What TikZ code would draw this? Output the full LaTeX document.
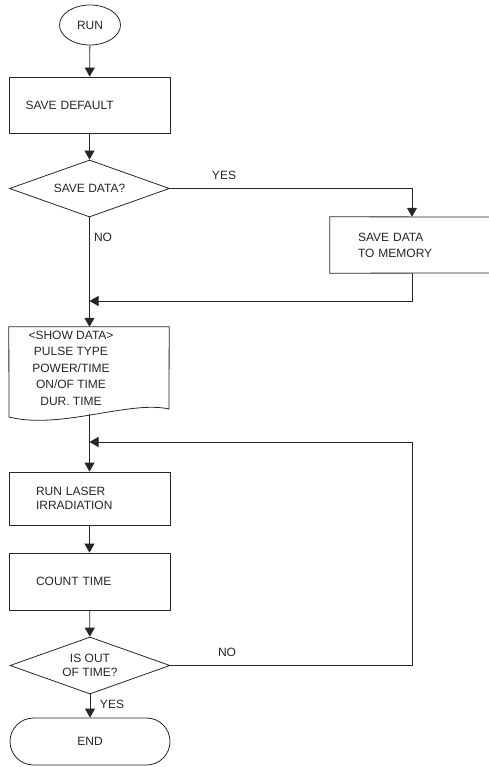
\documentclass[tikz,border=0pt]{standalone}
\usepackage{fontspec}
\setmainfont{Liberation Sans}
\usetikzlibrary{shapes.geometric,arrows.meta,calc}
\begin{document}
\begin{tikzpicture}[x=1pt,y=-1pt,
  every node/.style={font=\fontsize{12}{15}\selectfont, text=black!85},
  ln/.style={draw=black!85, line width=0.8pt},
  arr/.style={ln, -{Triangle[width=10pt,length=9pt]}},
  procbox/.style={ln, rectangle, minimum width=161pt, minimum height=#1, inner sep=0pt},
  decide/.style={ln, diamond, aspect=2.8, minimum width=160pt, minimum height=57pt, inner sep=0pt},
  lbl/.style={inner sep=0pt}
]
\useasboundingbox (0,0) rectangle (489,767);

% nodes
\node[ln, ellipse, minimum width=61pt, minimum height=40pt, inner sep=0pt] (run) at (90,25) {RUN};
\node[procbox=56pt, text width=128pt, align=left] (savedef) at (89.5,105) {SAVE DEFAULT};
\node[decide] (savedata) at (89.5,188.5) {SAVE DATA?};
\node[rectangle, minimum width=164pt, minimum height=56pt, inner sep=0pt, text width=108pt, align=left, font=\fontsize{12}{16}\selectfont] (memory) at (412,245) {SAVE DATA\\TO MEMORY};
\node[minimum width=160pt, minimum height=82pt, inner sep=0pt] (doc) at (89,368) {};
\node[lbl, align=center, font=\fontsize{12}{16.5}\selectfont] (doctext) at (71,368) {{<}SHOW DATA{>}\\PULSE TYPE\\POWER/TIME\\ON/OF TIME\\DUR. TIME};
\node[procbox=53pt, text width=107pt, align=left, font=\fontsize{12}{14.5}\selectfont] (laser) at (89.5,498.5) {RUN LASER\\IRRADIATION};
\node[procbox=57pt, text width=107pt, align=left] (count) at (89.5,581.5) {COUNT TIME};
\node[decide, align=center, font=\fontsize{12}{14}\selectfont] (outtime) at (90,665.5) {IS OUT\\OF TIME?};
\node[ln, rectangle, rounded corners=23.5pt, minimum width=160pt, minimum height=47pt, inner sep=0pt] (end) at (90,741.5) {END};

% memory box (right edge cut off by the picture border)
\draw[ln] (489,217) -- (memory.north west) -- (memory.south west) -- (489,273);

% document shape
\draw[ln] (doc.north west) -- (doc.north east) -- (169,409)
  .. controls (130,400) and (60,430) .. (9,417) -- cycle;

% coordinates
\coordinate (docbot) at (89.5,414);
\coordinate (j1) at (89.5,301);
\coordinate (j2) at (89.5,442);
\coordinate (loopx) at (412,442);

% connectors
\draw[arr] (run) -- (savedef);
\draw[arr] (savedef) -- (savedata);
\draw[arr] (savedata.east) -| (memory.north);
\draw[arr] (memory.south) |- (j1);
\draw[arr] (savedata.south) -- (savedata.south |- doc.north);
\draw[arr] (docbot) -- (laser.north);
\draw[arr] (laser) -- (count);
\draw[arr] (count) -- (outtime);
\draw[arr] (outtime.east) -| (loopx) -- (j2);
\draw[arr] (outtime) -- (end);

% labels
\node[lbl] (yes1) at (224,175) {YES};
\node[lbl] (no1) at (103,237) {NO};
\node[lbl] (no2) at (227,652) {NO};
\node[lbl] (yes2) at (112,704) {YES};
\end{tikzpicture}
\end{document}
